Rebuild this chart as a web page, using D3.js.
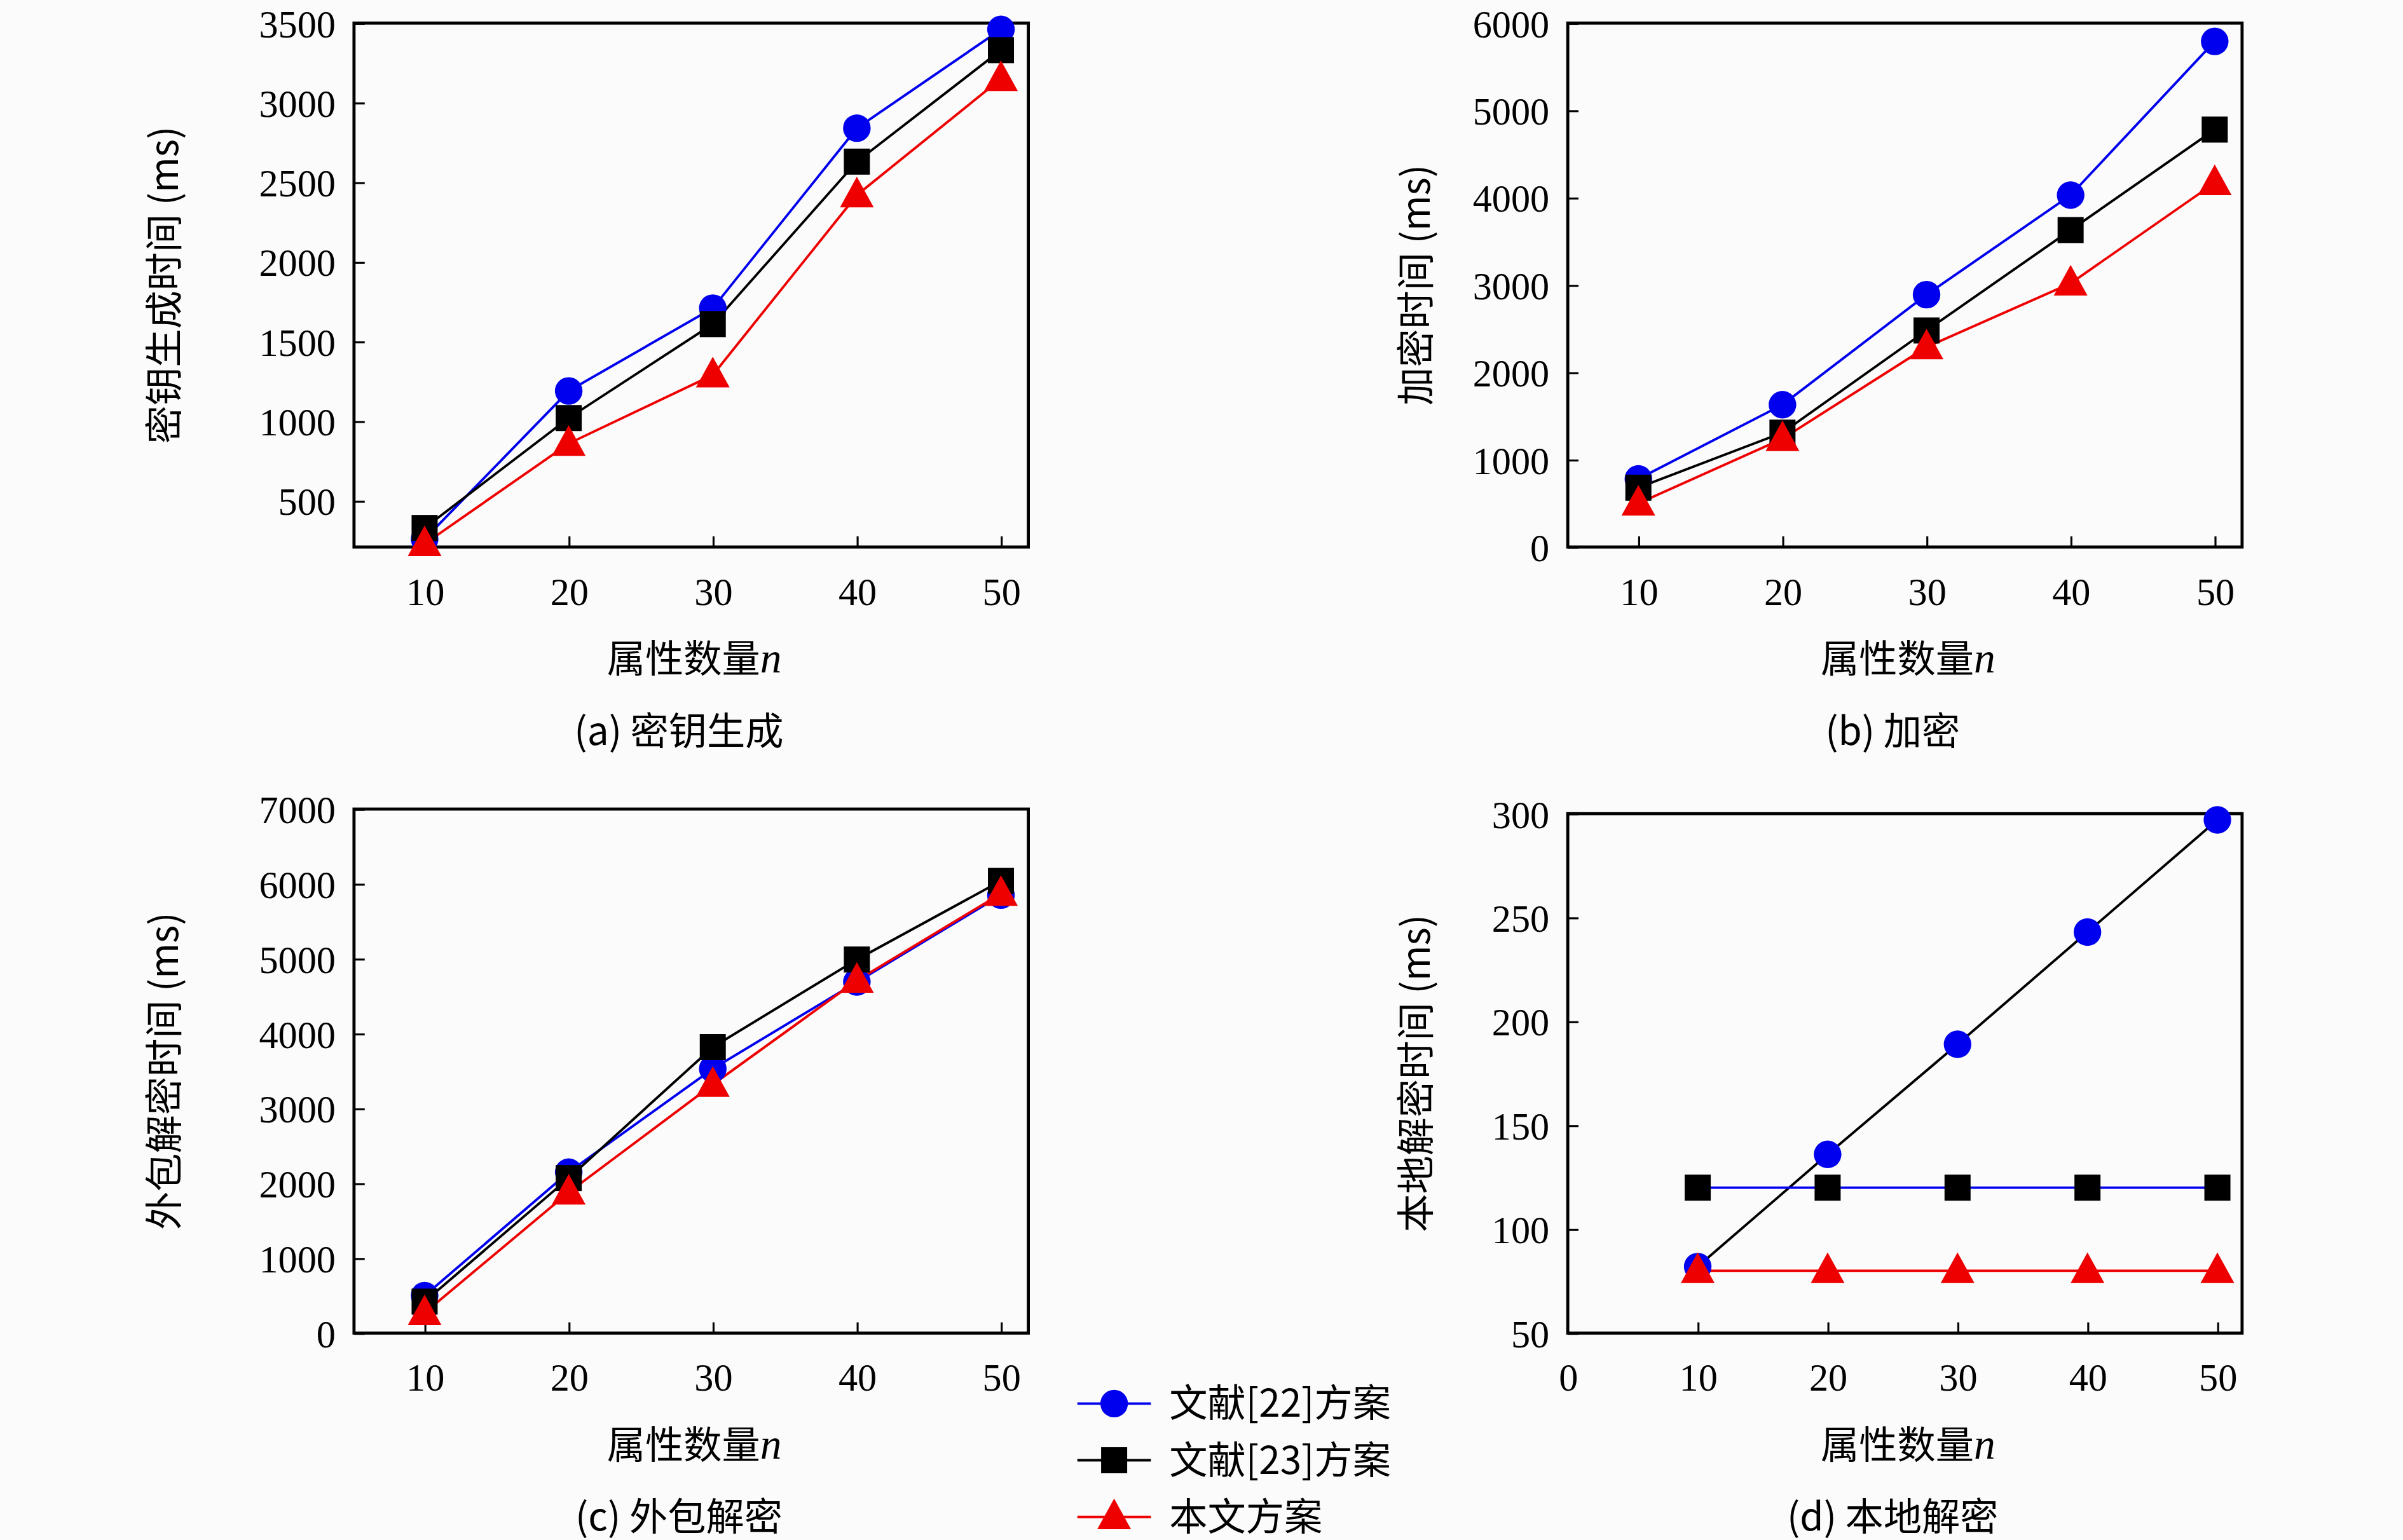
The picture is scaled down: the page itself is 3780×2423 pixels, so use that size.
<!DOCTYPE html>
<html><head><meta charset="utf-8">
<script src="https://cdn.jsdelivr.net/npm/d3@7"></script>
<style>body{margin:0;background:#fbfbfb}</style></head>
<body><script>
const xValues=[10,20,30,40,50];
const seriesNames=["文献[22]方案","文献[23]方案","本文方案"];
const keyGenA=[[260,1190,1710,2840,3460],[330,1020,1610,2630,3330],[230,860,1290,2420,3150]];
const encB=[[780,1630,2890,4030,5790],[680,1310,2480,3630,4780],[500,1240,2290,3020,4170]];
const outDecC=[[500,2150,3530,4690,5850],[420,2070,3820,4990,6040],[270,1880,3320,4710,5870]];
const locDecD=[[82,136,189,243,297],[120,120,120,120,120],[80,80,80,80,80]];
const yTicksA=[500,1000,1500,2000,2500,3000,3500];
const yTicksB=[0,1000,2000,3000,4000,5000,6000];
const yTicksC=[0,1000,2000,3000,4000,5000,6000,7000];
const yTicksD=[50,100,150,200,250,300];
const titles=["(a) 密钥生成","(b) 加密","(c) 外包解密","(d) 本地解密"];
const yLabels=["密钥生成时间 (ms)","加密时间 (ms)","外包解密时间 (ms)","本地解密时间 (ms)"];
const markerColors=["#0000ee","#000000","#ee0000"];
const shapes=["circle","square","triangle"];

const svg=d3.select("body").append("svg").attr("width",3780).attr("height",2423).attr("viewBox","0 0 1568 1005");
svg.append("rect").attr("width",1568).attr("height",1005).attr("fill","#fbfbfb");
const numFont="'Liberation Serif','DejaVu Serif',serif";
const cjkFont="'Noto Sans CJK SC',sans-serif";

function marker(g,shape,x,y,c){
  if(shape==="circle") g.append("circle").attr("cx",x).attr("cy",y).attr("r",9).attr("fill",c);
  else if(shape==="square") g.append("rect").attr("x",x-8.5).attr("y",y-8.5).attr("width",17).attr("height",17).attr("fill",c);
  else g.append("path").attr("d",`M${x},${y-12}L${x+11},${y+8}L${x-11},${y+8}Z`).attr("fill",c);
}

const panels=[
 {data:keyGenA,ticks:yTicksA,yd:[210,3500],x0:231,y0:15,xd:[5.1,51.9],xt:xValues,lineCols:["#0000ee","#000000","#ee0000"]},
 {data:encB,ticks:yTicksB,yd:[0,6000],x0:1023,y0:15,xd:[5.1,51.9],xt:xValues,lineCols:["#0000ee","#000000","#ee0000"]},
 {data:outDecC,ticks:yTicksC,yd:[0,7000],x0:231,y0:528,xd:[5.1,51.9],xt:xValues,lineCols:["#0000ee","#000000","#ee0000"]},
 {data:locDecD,ticks:yTicksD,yd:[50,300],x0:1023,y0:531,xd:[0,51.9],xt:[0,...xValues],lineCols:["#000000","#0000ee","#ee0000"]}
];
const W=440,H=[342,342,342,339];
panels.forEach((p,i)=>{
  const h=H[i];
  const g=svg.append("g").attr("transform",`translate(${p.x0},${p.y0})`);
  const x=d3.scaleLinear().domain(p.xd).range([0,W]);
  const y=d3.scaleLinear().domain(p.yd).range([h,0]);
  const xa=d3.axisBottom(x).tickValues(p.xt).tickFormat(d3.format("d")).tickSize(-7).tickPadding(20).tickSizeOuter(0);
  const ya=d3.axisLeft(y).tickValues(p.ticks).tickFormat(d3.format("d")).tickSize(-7).tickPadding(12).tickSizeOuter(0);
  const gx=g.append("g").attr("transform",`translate(0,${h})`).call(xa);
  const gy=g.append("g").call(ya);
  [gx,gy].forEach(a=>{a.select(".domain").remove();a.selectAll("line").attr("stroke","#000").attr("stroke-width",1.3);
    a.selectAll("text").attr("font-family",numFont).attr("font-size",25).attr("fill","#000");});
  gx.selectAll("text").attr("dy","0.71em");
  gx.selectAll(".tick").filter(d=>d===0).select("line").remove();
  gy.selectAll("text").attr("dy","0.35em");
  g.append("rect").attr("width",W).attr("height",h).attr("fill","none").attr("stroke","#000").attr("stroke-width",2);
  p.data.forEach((s,k)=>{
    const line=d3.line().x((d,j)=>x(xValues[j])).y(d=>y(d));
    g.append("path").datum(s).attr("d",line).attr("fill","none").attr("stroke",p.lineCols[k]).attr("stroke-width",1.6);
  });
  p.data.forEach((s,k)=>{ s.forEach((v,j)=>marker(g,shapes[k],x(xValues[j]),y(v),markerColors[k])); });
  const xl=g.append("text").attr("x",W/2+2).attr("y",h+82).attr("text-anchor","middle").attr("font-size",25).attr("font-family",cjkFont);
  xl.append("tspan").text("属性数量");
  xl.append("tspan").attr("font-family",numFont).attr("font-style","italic").attr("font-size",28).text("n");
  g.append("text").attr("x",W/2-8).attr("y",h+129).attr("text-anchor","middle").attr("font-size",25).attr("font-family",cjkFont).text(titles[i]);
  const yl=g.append("text").attr("transform",`translate(${i%2?-90:-115},${h/2}) rotate(-90)`).attr("text-anchor","middle").attr("font-size",25).attr("font-family",cjkFont);
  yl.text(yLabels[i]);
});
const lg=svg.append("g").attr("transform","translate(703,0)");
[916,953,990].forEach((yy,k)=>{
  lg.append("line").attr("x1",0).attr("x2",48).attr("y1",yy).attr("y2",yy).attr("stroke",markerColors[k]).attr("stroke-width",1.6);
  marker(lg,shapes[k],24,yy,markerColors[k]);
  lg.append("text").attr("x",60).attr("y",yy).attr("dy","0.35em").attr("font-size",25).attr("font-family",cjkFont).text(seriesNames[k]);
});
</script></body></html>
